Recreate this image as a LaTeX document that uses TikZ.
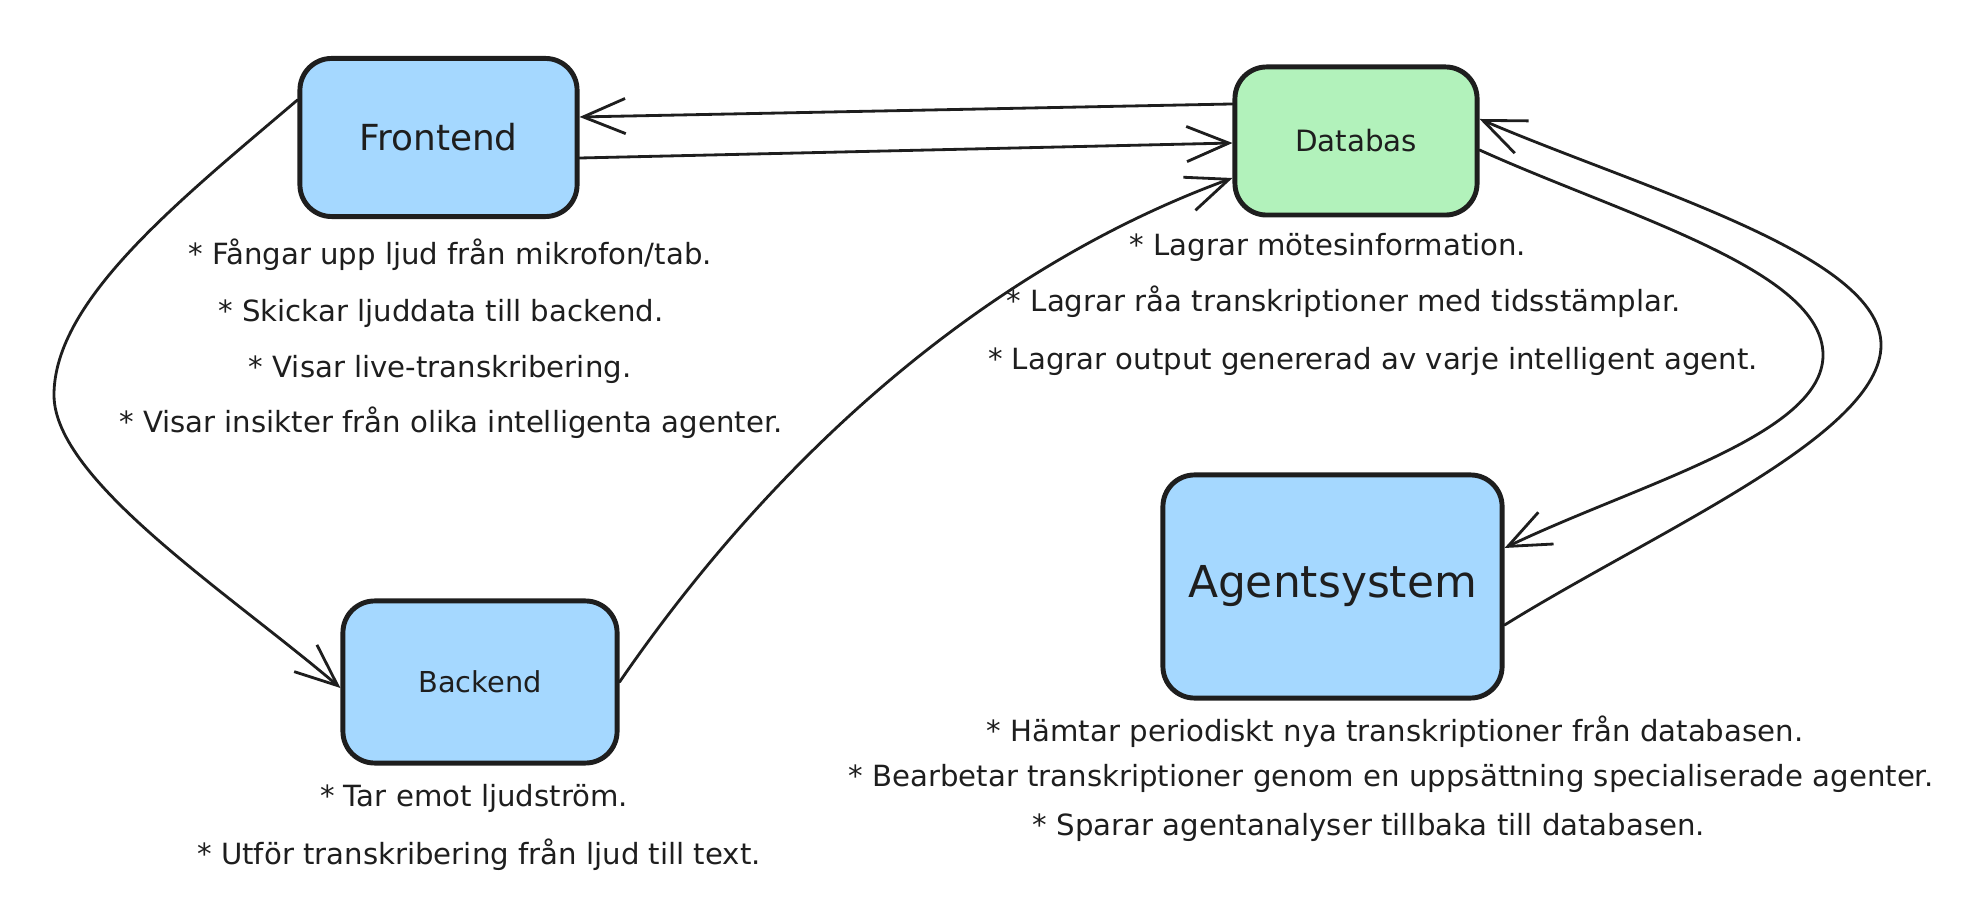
\documentclass[tikz,border=0pt]{standalone}
\usepackage{fontspec}
\setmainfont{DejaVu Sans}
\usetikzlibrary{arrows.meta}
\definecolor{ink}{HTML}{1E1E1E}
\definecolor{bluefill}{HTML}{A5D8FF}
\definecolor{greenfill}{HTML}{B2F2BB}
\begin{document}
\begin{tikzpicture}[x=0.01cm,y=-0.01cm,
  box/.style={draw=ink, line width=1.4pt, rounded corners=9pt, inner sep=0pt, text=ink},
  desc/.style={anchor=base, text=ink, inner sep=0pt, font=\fontsize{8.3pt}{10pt}\selectfont},
  conn/.style={draw=ink, line width=0.8pt, line cap=round, line join=round,
    -{Straight Barb[length=12pt,width=10pt,line width=0.8pt]}},
]
\useasboundingbox (0,0) rectangle (1961,916);

% boxes
\node[box, fill=bluefill, minimum width=2.77cm, minimum height=1.58cm,
  font=\fontsize{10.2pt}{12pt}\selectfont] (frontend) at (438.5,137.5) {Frontend};
\node[box, fill=greenfill, minimum width=2.42cm, minimum height=1.48cm,
  font=\fontsize{8.35pt}{10pt}\selectfont] (databas) at (1356,141) {Databas};
\node[box, fill=bluefill, minimum width=2.74cm, minimum height=1.62cm,
  font=\fontsize{8.2pt}{10pt}\selectfont] (backend) at (480,682) {Backend};
\node[box, fill=bluefill, minimum width=3.39cm, minimum height=2.23cm,
  font=\fontsize{12.5pt}{15pt}\selectfont] (agent) at (1332.5,586.5) {Agentsystem};

% descriptions
\node[desc] (f1) at (450,265) {* Fångar upp ljud från mikrofon/tab.};
\node[desc] (f2) at (441,322) {* Skickar ljuddata till backend.};
\node[desc] (f3) at (440,378) {* Visar live-transkribering.};
\node[desc] (f4) at (451,433) {* Visar insikter från olika intelligenta agenter.};

\node[desc] (d1) at (1328,256) {* Lagrar mötesinformation.};
\node[desc] (d2) at (1344,312) {* Lagrar råa transkriptioner med tidsstämplar.};
\node[desc] (d3) at (1373,370) {* Lagrar output genererad av varje intelligent agent.};

\node[desc] (b1) at (474,806) {* Tar emot ljudström.};
\node[desc] (b2) at (479,864) {* Utför transkribering från ljud till text.};

\node[desc] (a1) at (1395,741) {* Hämtar periodiskt nya transkriptioner från databasen.};
\node[desc] (a2) at (1391,786) {* Bearbetar transkriptioner genom en uppsättning specialiserade agenter.};
\node[desc] (a3) at (1369,835) {* Sparar agentanalyser tillbaka till databasen.};

% bend points
\coordinate (fbbend) at (54,395);
\coordinate (dabend) at (1823,355);
\coordinate (adbend) at (1881,345);

% connectors
\draw[conn] ([yshift=0.37cm]databas.west) -- ([yshift=0.205cm]frontend.east);
\draw[conn] ([yshift=-0.205cm]frontend.east) -- ([yshift=-0.02cm]databas.west);
\draw[conn] (backend.east) .. controls (772,460) and (981,270) .. ([yshift=-0.37cm]databas.west);
\draw[conn] ([yshift=0.375cm]frontend.west) .. controls (180,200) and (54,300) .. (fbbend)
  .. controls (54,480) and (229,593) .. ([yshift=-0.06cm]backend.west);
\draw[conn] ([yshift=-0.09cm]databas.east) .. controls (1623,215) and (1823,270) .. (dabend)
  .. controls (1823,435) and (1638,484) .. ([yshift=0.385cm]agent.east);
\draw[conn] ([yshift=-0.385cm]agent.east) .. controls (1656,531) and (1881,435) .. (adbend)
  .. controls (1881,255) and (1643,189) .. ([yshift=0.22cm]databas.east);
\end{tikzpicture}
\end{document}
